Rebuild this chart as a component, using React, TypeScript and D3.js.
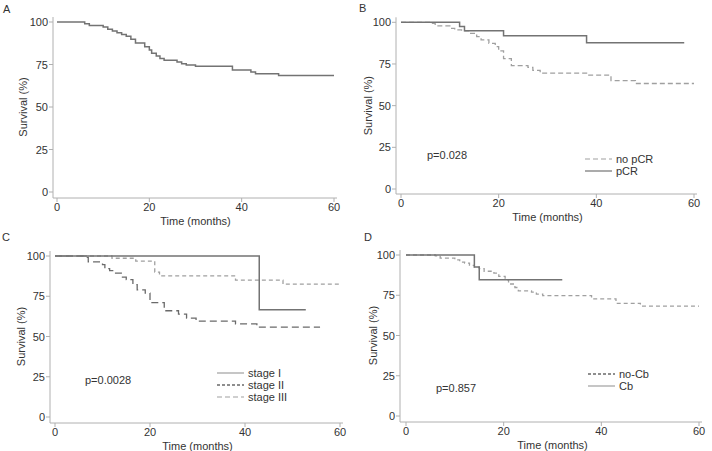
import React from "react";
import * as d3 from "d3";

type Pt = [number, number];

const monthTicks = [0, 20, 40, 60];
const survivalTicks = [0, 25, 50, 75, 100];

// Panel A: all patients
const allPatients: Pt[] = [
  [0, 100], [6, 99], [7, 98], [10, 97], [11, 95.7], [12, 94.7], [13, 93.7], [14, 92.7],
  [15, 91.6], [16, 89.8], [17, 87.6], [19, 85.5], [20, 83.5], [20.5, 81.6], [21.5, 80],
  [22.3, 78.5], [23.2, 77.5], [26, 76.5], [27, 75.5], [28, 74.7], [30, 74], [38, 71.8],
  [42, 70.6], [43, 69.6], [48, 68.5],
];
const allPatientsEnd = 60;

// Panel B
const noPCR: Pt[] = [
  [0, 100], [6, 99.3], [7, 97.8], [10, 96.4], [11, 95.4], [12.4, 94.8], [14, 93.4],
  [15.5, 91.4], [16.4, 89.4], [18, 87.4], [19.3, 85.4], [20, 82.8], [21, 78.2],
  [22.6, 74], [26, 73], [27, 71.2], [28.5, 69.5], [38, 68.3], [43, 65], [48, 63.3],
];
const noPCREnd = 60;
const pCR: Pt[] = [[0, 100], [12, 97.5], [13, 95], [21, 92], [38, 87.8]];
const pCREnd = 58;

// Panel C
const stageI: Pt[] = [[0, 100], [43, 66.6]];
const stageIEnd = 52.8;
const stageII: Pt[] = [
  [0, 100], [12, 98.6], [17, 96.8], [21, 90], [22, 87.7], [38, 85], [48, 82.5],
];
const stageIIEnd = 60;
const stageIII: Pt[] = [
  [0, 100], [6, 99.2], [7, 96.3], [10, 94.6], [10.5, 92.1], [11.5, 90.9], [12.6, 89.4],
  [14.2, 86.9], [15, 85.3], [16.4, 82.2], [17.3, 79], [19, 77], [20, 71], [23, 66],
  [26, 63.9], [27.7, 61.4], [29.7, 59.5], [38, 57.8], [42.5, 55.8],
];
const stageIIIEnd = 55.8;

// Panel D
const noCb: Pt[] = [
  [0, 100], [6, 99.5], [7, 98.1], [10, 97], [11, 95.6], [12, 95], [13, 93.6], [14, 92.5],
  [15, 91.5], [16, 89.9], [18, 88.8], [19, 86.7], [20.3, 84.6], [21, 82], [22.3, 79.8],
  [23, 77.7], [25.7, 76.9], [26.7, 75.7], [28, 74.8], [38, 72.8], [43, 70], [48, 68.3],
];
const noCbEnd = 60;
const cb: Pt[] = [[0, 100], [14, 92.5], [15, 84.6]];
const cbEnd = 32;

const FONT = "'Liberation Sans', Arial, Helvetica, sans-serif";
const TXT = "#333";
const AXIS = "#b0b0b0";

type Series = { data: Pt[]; end: number; color: string; width: number; dash?: string };
type LegendItem = { label: string; color: string; width: number; dash?: string };

type PanelProps = {
  letter: string;
  letterX: number;
  letterY: number;
  x0: number;
  x60: number;
  y100: number;
  y0: number;
  axisX: number;
  axisY: number;
  ylabX: number;
  series: Series[];
  pval?: { text: string; x: number; y: number };
  legend?: { x: number; y: number; step: number; items: LegendItem[] };
};

function Panel(p: PanelProps) {
  const x = d3.scaleLinear().domain([0, 60]).range([p.x0, p.x60]);
  const y = d3.scaleLinear().domain([0, 100]).range([p.y0, p.y100]);
  const line = d3
    .line<Pt>()
    .x((d) => x(d[0]))
    .y((d) => y(d[1]))
    .curve(d3.curveStepAfter);
  const ymid = (p.y0 + p.y100) / 2;
  const xmid = (p.x0 + p.x60) / 2;
  return (
    <g fontFamily={FONT} fill={TXT}>
      <text x={p.letterX} y={p.letterY} fontSize={11}>{p.letter}</text>
      {/* y axis */}
      <line x1={p.axisX} x2={p.axisX} y1={y(100) - 5} y2={p.axisY} stroke={AXIS} strokeWidth={1} />
      {survivalTicks.map((t) => (
        <g key={"y" + t}>
          <line x1={p.axisX - 4} x2={p.axisX} y1={y(t)} y2={y(t)} stroke={AXIS} />
          <text x={p.axisX - 5} y={y(t) + 4} fontSize={11} textAnchor="end">{t}</text>
        </g>
      ))}
      {/* x axis */}
      <line x1={p.axisX} x2={x(60) + 3} y1={p.axisY} y2={p.axisY} stroke={AXIS} strokeWidth={1} />
      {monthTicks.map((t) => (
        <g key={"x" + t}>
          <line x1={x(t)} x2={x(t)} y1={p.axisY} y2={p.axisY + 4} stroke={AXIS} />
          <text x={x(t)} y={p.axisY + 13} fontSize={11} textAnchor="middle">{t}</text>
        </g>
      ))}
      <text x={xmid} y={p.axisY + 27} fontSize={11} textAnchor="middle">Time (months)</text>
      <text
        transform={`translate(${p.ylabX},${ymid}) rotate(-90)`}
        fontSize={11}
        textAnchor="middle"
      >
        Survival (%)
      </text>
      {p.series.map((s, i) => {
        const pts: Pt[] = [...s.data, [s.end, s.data[s.data.length - 1][1]]];
        return (
          <path
            key={i}
            d={line(pts) || ""}
            fill="none"
            stroke={s.color}
            strokeWidth={s.width}
            strokeDasharray={s.dash}
          />
        );
      })}
      {p.pval && (
        <text x={p.pval.x} y={p.pval.y} fontSize={11}>{p.pval.text}</text>
      )}
      {p.legend &&
        p.legend.items.map((it, i) => {
          const ly = p.legend!.y + i * p.legend!.step;
          return (
            <g key={it.label}>
              <line
                x1={p.legend!.x}
                x2={p.legend!.x + 27}
                y1={ly}
                y2={ly}
                stroke={it.color}
                strokeWidth={it.width}
                strokeDasharray={it.dash}
              />
              <text x={p.legend!.x + 31} y={ly + 4} fontSize={11}>{it.label}</text>
            </g>
          );
        })}
    </g>
  );
}

export default function App() {
  const solid = "#737373";
  const light = "#a0a0a0";
  const dark = "#6a6a6a";
  return (
    <svg
      width={712}
      height={451}
      style={{ position: "absolute", left: 0, top: 0, background: "#fff" }}
    >
      <rect width={712} height={451} fill="#fff" />
      <Panel
        letter="A" letterX={3} letterY={13}
        x0={57} x60={334} y100={22} y0={192} axisX={53} axisY={198} ylabX={27}
        series={[{ data: allPatients, end: allPatientsEnd, color: solid, width: 1.5 }]}
      />
      <Panel
        letter="B" letterX={359} letterY={12}
        x0={401} x60={694} y100={22.3} y0={189} axisX={396} axisY={194} ylabX={372}
        series={[
          { data: noPCR, end: noPCREnd, color: light, width: 1.3, dash: "5,3" },
          { data: pCR, end: pCREnd, color: solid, width: 1.5 },
        ]}
        pval={{ text: "p=0.028", x: 427, y: 159 }}
        legend={{
          x: 585, y: 159, step: 12,
          items: [
            { label: "no pCR", color: light, width: 1.2, dash: "5,3" },
            { label: "pCR", color: solid, width: 1.2 },
          ],
        }}
      />
      <Panel
        letter="C" letterX={2} letterY={241}
        x0={55} x60={340} y100={256} y0={417} axisX={50} axisY={423} ylabX={25}
        series={[
          { data: stageIII, end: stageIIIEnd, color: dark, width: 1.3, dash: "7,4" },
          { data: stageII, end: stageIIEnd, color: light, width: 1.3, dash: "4,3" },
          { data: stageI, end: stageIEnd, color: solid, width: 1.5 },
        ]}
        pval={{ text: "p=0.0028", x: 85, y: 384 }}
        legend={{
          x: 217, y: 373, step: 12,
          items: [
            { label: "stage I", color: light, width: 1.2 },
            { label: "stage II", color: dark, width: 1.6, dash: "3,2" },
            { label: "stage III", color: light, width: 1.2, dash: "5,3" },
          ],
        }}
      />
      <Panel
        letter="D" letterX={364} letterY={241}
        x0={406} x60={699} y100={255} y0={416} axisX={400} axisY={422} ylabX={377}
        series={[
          { data: noCb, end: noCbEnd, color: light, width: 1.3, dash: "4,3" },
          { data: cb, end: cbEnd, color: solid, width: 1.5 },
        ]}
        pval={{ text: "p=0.857", x: 436, y: 392 }}
        legend={{
          x: 588, y: 374, step: 12,
          items: [
            { label: "no-Cb", color: dark, width: 1.6, dash: "3,2" },
            { label: "Cb", color: light, width: 1.2 },
          ],
        }}
      />
    </svg>
  );
}
